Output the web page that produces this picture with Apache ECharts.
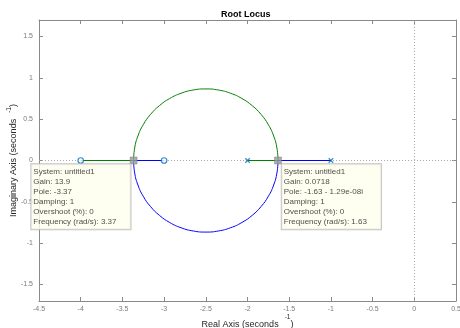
<!DOCTYPE html>
<html><head><meta charset="utf-8">
<script src="https://cdn.jsdelivr.net/npm/echarts@6/dist/echarts.min.js"></script>
<style>html,body{margin:0;padding:0;background:#fff}#c{width:460px;height:328px}</style>
</head><body><div id="c"></div>
<script>
// ---- data ----
const xTicks = [-4.5,-4,-3.5,-3,-2.5,-2,-1.5,-1,-0.5,0,0.5];
const yTicks = [-1.5,-1,-0.5,0,0.5,1,1.5];
const poles = [[-2,0],[-1,0]];
const zeros = [[-4,0],[-3,0]];
const greenRight = [[-2,0],[-1.634,0]];
const greenLeft = [[-3.366,0],[-4,0]];
const blueRight = [[-1,0],[-1.634,0]];
const blueLeft = [[-3.366,0],[-3,0]];
const upperArc = [[-1.634,0],[-1.647,0.150],[-1.686,0.296],[-1.750,0.433],[-1.837,0.557],[-1.943,0.663],[-2.067,0.750],[-2.204,0.814],[-2.350,0.853],[-2.500,0.866],[-2.650,0.853],[-2.796,0.814],[-2.933,0.750],[-3.057,0.663],[-3.163,0.557],[-3.250,0.433],[-3.314,0.296],[-3.353,0.150],[-3.366,0]];
const lowerArc = [[-1.634,0],[-1.647,-0.150],[-1.686,-0.296],[-1.750,-0.433],[-1.837,-0.557],[-1.943,-0.663],[-2.067,-0.750],[-2.204,-0.814],[-2.350,-0.853],[-2.500,-0.866],[-2.650,-0.853],[-2.796,-0.814],[-2.933,-0.750],[-3.057,-0.663],[-3.163,-0.557],[-3.250,-0.433],[-3.314,-0.296],[-3.353,-0.150],[-3.366,0]];
const tipPoints = [[-3.366,0],[-1.634,0]];
const tipTexts = [
  ['System: untitled1','Gain: 13.9','Pole: -3.37','Damping: 1','Overshoot (%): 0','Frequency (rad/s): 3.37'],
  ['System: untitled1','Gain: 0.0718','Pole: -1.63 - 1.29e-08i','Damping: 1','Overshoot (%): 0','Frequency (rad/s): 1.63']
];
// ---- chart ----
const FONT = '"Liberation Sans", Arial, Helvetica, sans-serif';
const AX = '#8a8a8a';
const BLUE = '#0000ff', GREEN = '#008000', MK = '#0072bd';
const chart = echarts.init(document.getElementById('c'), null, {renderer:'canvas'});
const tickLabel = {color:'#7a7a7a', fontSize:7, fontFamily:FONT};
const nameRichX = {
  a:{fontSize:9, color:'#262626', fontFamily:FONT},
  s:{fontSize:6.5, color:'#262626', fontFamily:FONT, padding:[0,0,14,6]}
};
const nameRichY = {
  a:{fontSize:9, color:'#262626', fontFamily:FONT},
  s:{fontSize:6.5, color:'#262626', fontFamily:FONT, padding:[0,0,10,6]}
};
function lineSeries(data, color, smooth){
  return {type:'line', data:data, smooth:smooth?0.5:false, symbol:'none', silent:true,
    lineStyle:{color:color, width:1, type:'solid'}, z:3, animation:false};
}
const tipSeries = {
  type:'scatter', data: tipPoints.map((p,i)=>({
    value:p,
    label:{
      show:true,
      position: i===0 ? [-98.5,7.5] : [7.5,7.5],
      align:'left',
      verticalAlign:'top',
      formatter: tipTexts[i].join('\n'),
      fontSize:8, lineHeight:10, color:'#1a1a1a', fontFamily:FONT,
      backgroundColor:'#ffffee', borderColor:'#b4b4b4', borderWidth:1,
      padding:[3,14,2,2]
    }
  })),
  symbol:'rect', symbolSize:7, itemStyle:{color:'#9a9a9a', borderColor:'#6e6e6e', borderWidth:0.5},
  z:10, animation:false, silent:true
};
const option = {
  animation:false,
  title:{text:'Root Locus', left:216, top:5,
    textStyle:{fontSize:9, fontWeight:'bold', color:'#000', fontFamily:FONT}},
  grid:{left:39, right:4, top:20, bottom:27, containLabel:false, outerBoundsMode:'none'},
  xAxis:[
    {type:'value', min:-4.5, max:0.5, interval:0.5, position:'bottom',
     axisLine:{show:true, onZero:false, lineStyle:{color:AX, width:1}},
     axisTick:{show:true, inside:true, length:4, lineStyle:{color:AX}},
     axisLabel:Object.assign({margin:5, customValues:xTicks, formatter:v=>String(v)}, tickLabel),
     splitLine:{show:false},
     name:'{a|Real Axis (seconds}{s|-1}{a|)}', nameLocation:'middle', nameGap:13, nameMoveOverlap:false,
     nameTextStyle:{rich:nameRichX}},
    {type:'value', min:-4.5, max:0.5, interval:0.5, position:'top',
     axisLine:{show:true, onZero:false, lineStyle:{color:AX, width:1}},
     axisTick:{show:true, inside:true, length:4, lineStyle:{color:AX}},
     axisLabel:{show:false}, splitLine:{show:false}}
  ],
  yAxis:[
    {type:'value', min:-1.7, max:1.7, position:'left',
     axisLine:{show:true, onZero:false, lineStyle:{color:AX, width:1}},
     axisTick:{show:true, inside:true, length:4, customValues:yTicks, lineStyle:{color:AX}},
     axisLabel:Object.assign({margin:6, customValues:yTicks, formatter:v=>String(v)}, tickLabel),
     splitLine:{show:false},
     name:'{a|Imaginary Axis (seconds}{s|-1}{a|)}', nameLocation:'middle', nameGap:16.5, nameRotate:90, nameMoveOverlap:false,
     nameTextStyle:{rich:nameRichY}},
    {type:'value', min:-1.7, max:1.7, position:'right',
     axisLine:{show:true, onZero:false, lineStyle:{color:AX, width:1}},
     axisTick:{show:true, inside:true, length:4, customValues:yTicks, lineStyle:{color:AX}},
     axisLabel:{show:false}, splitLine:{show:false}}
  ],
  series:[
    {type:'line', data:[], silent:true, z:1,
     markLine:{silent:true, symbol:'none', label:{show:false}, z:1,
       lineStyle:{color:'#a8a8a8', type:[1,2], width:1},
       data:[{xAxis:0},{yAxis:0}]}},
    lineSeries(greenRight, GREEN), lineSeries(greenLeft, GREEN), lineSeries(upperArc, GREEN, true),
    lineSeries(blueRight, BLUE), lineSeries(blueLeft, BLUE), lineSeries(lowerArc, BLUE, true),
    {type:'scatter', data:zeros, symbol:'circle', symbolSize:5.5, z:6, silent:true,
     itemStyle:{color:'#ffffff', borderColor:MK, borderWidth:1.2}},
    {type:'scatter', data:poles, symbol:'path://M0,0L10,10M10,0L0,10', symbolSize:4.5, z:6, silent:true,
     itemStyle:{color:'none', borderColor:MK, borderWidth:1.2}},
    tipSeries
  ]
};
chart.setOption(option);
</script></body></html>
